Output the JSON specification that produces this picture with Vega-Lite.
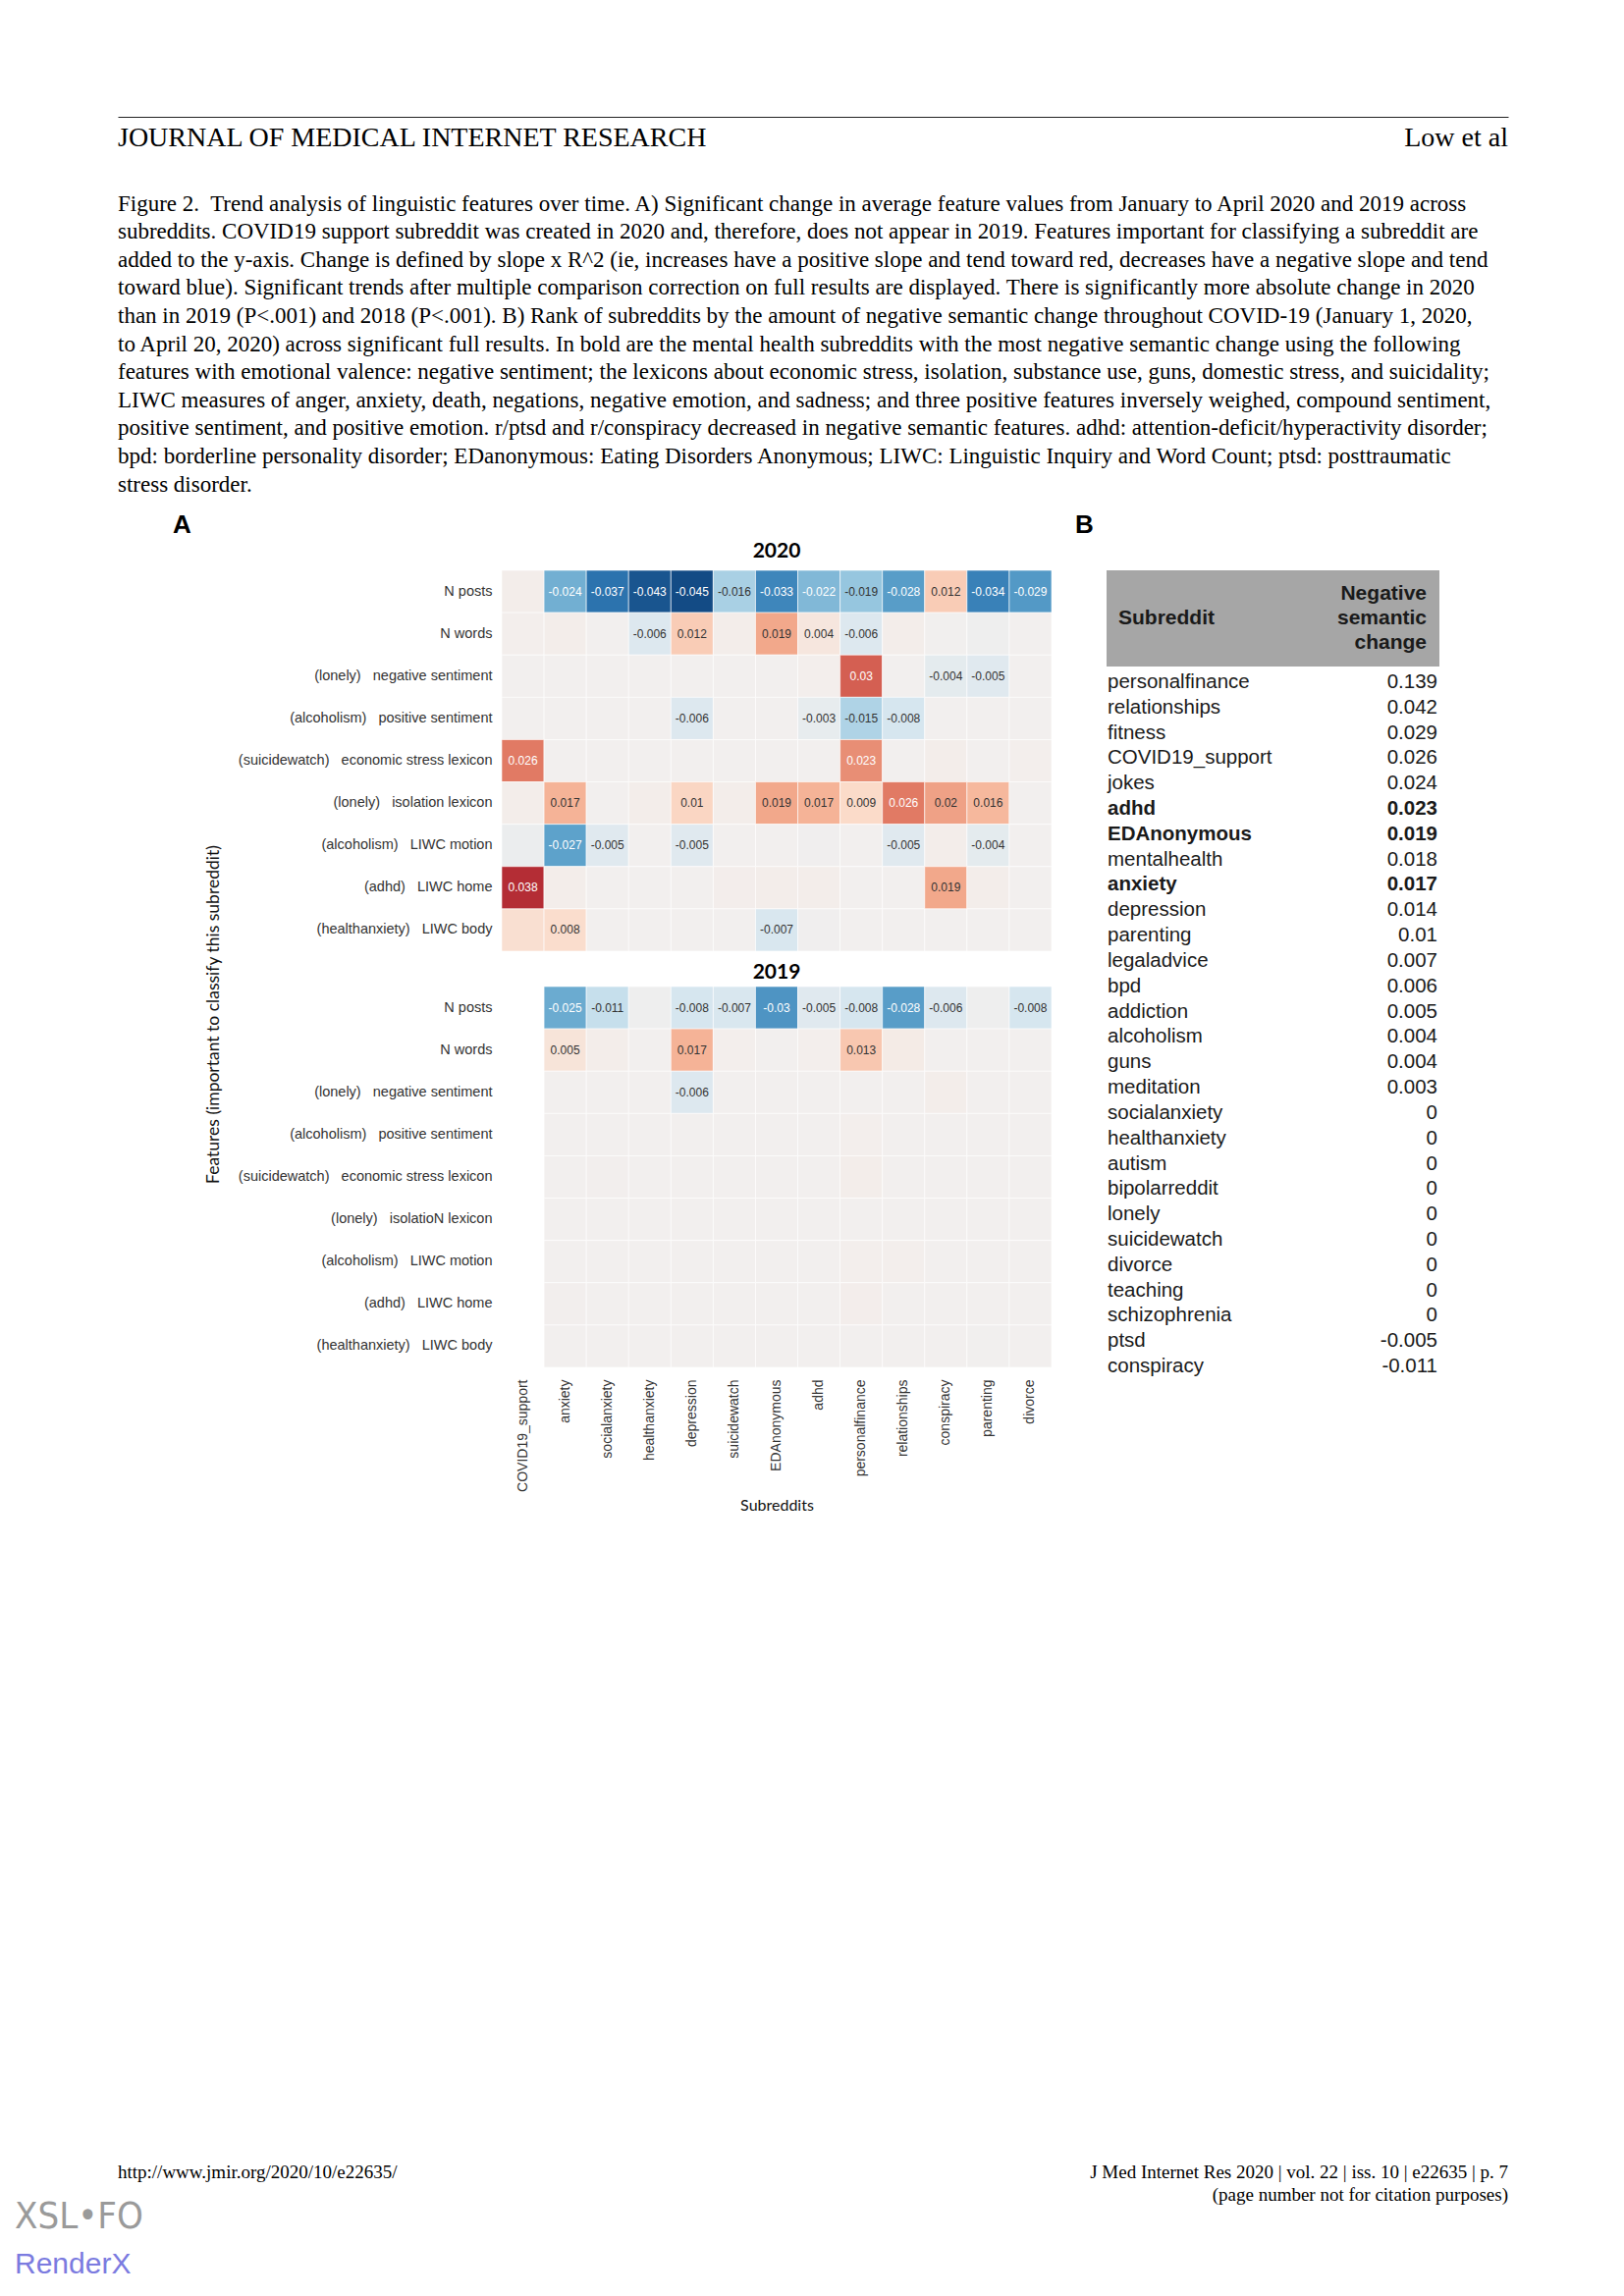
{
"$schema": "https://vega.github.io/schema/vega-lite/v6.json",
"background": "white",
"padding": {"left": 15, "top": 119, "right": 20, "bottom": 0},
"config": {"view": {"stroke": null}, "axis": {"ticks": false, "domain": false, "grid": false}, "font": "Liberation Sans"},
"title": {"text": "XSL•FO", "subtitle": "RenderX", "orient": "bottom", "anchor": "start", "frame": "group", "dx": -496, "font": "Liberation Sans Narrow, DejaVu Sans Condensed, sans-serif", "fontSize": 38, "fontWeight": "normal", "color": "#9a9a9a", "subtitleFont": "Liberation Sans", "subtitleFontSize": 30, "subtitleColor": "#7b7be0", "subtitlePadding": 14, "offset": -6},
"datasets": {
"heatmap": [
{"year":2020,"feature":"N posts","subreddit":"COVID19_support","change":0.001,"significant":false},
{"year":2020,"feature":"N posts","subreddit":"anxiety","change":-0.024,"significant":true},
{"year":2020,"feature":"N posts","subreddit":"socialanxiety","change":-0.037,"significant":true},
{"year":2020,"feature":"N posts","subreddit":"healthanxiety","change":-0.043,"significant":true},
{"year":2020,"feature":"N posts","subreddit":"depression","change":-0.045,"significant":true},
{"year":2020,"feature":"N posts","subreddit":"suicidewatch","change":-0.016,"significant":true},
{"year":2020,"feature":"N posts","subreddit":"EDAnonymous","change":-0.033,"significant":true},
{"year":2020,"feature":"N posts","subreddit":"adhd","change":-0.022,"significant":true},
{"year":2020,"feature":"N posts","subreddit":"personalfinance","change":-0.019,"significant":true},
{"year":2020,"feature":"N posts","subreddit":"relationships","change":-0.028,"significant":true},
{"year":2020,"feature":"N posts","subreddit":"conspiracy","change":0.012,"significant":true},
{"year":2020,"feature":"N posts","subreddit":"parenting","change":-0.034,"significant":true},
{"year":2020,"feature":"N posts","subreddit":"divorce","change":-0.029,"significant":true},
{"year":2020,"feature":"N words","subreddit":"COVID19_support","change":0.0005,"significant":false},
{"year":2020,"feature":"N words","subreddit":"anxiety","change":0.001,"significant":false},
{"year":2020,"feature":"N words","subreddit":"socialanxiety","change":0,"significant":false},
{"year":2020,"feature":"N words","subreddit":"healthanxiety","change":-0.006,"significant":true},
{"year":2020,"feature":"N words","subreddit":"depression","change":0.012,"significant":true},
{"year":2020,"feature":"N words","subreddit":"suicidewatch","change":0.001,"significant":false},
{"year":2020,"feature":"N words","subreddit":"EDAnonymous","change":0.019,"significant":true},
{"year":2020,"feature":"N words","subreddit":"adhd","change":0.004,"significant":true},
{"year":2020,"feature":"N words","subreddit":"personalfinance","change":-0.006,"significant":true},
{"year":2020,"feature":"N words","subreddit":"relationships","change":0.001,"significant":false},
{"year":2020,"feature":"N words","subreddit":"conspiracy","change":-0.0003,"significant":false},
{"year":2020,"feature":"N words","subreddit":"parenting","change":-0.001,"significant":false},
{"year":2020,"feature":"N words","subreddit":"divorce","change":0,"significant":false},
{"year":2020,"feature":"(lonely)\u00a0\u00a0\u00a0negative sentiment","subreddit":"COVID19_support","change":0,"significant":false},
{"year":2020,"feature":"(lonely)\u00a0\u00a0\u00a0negative sentiment","subreddit":"anxiety","change":0,"significant":false},
{"year":2020,"feature":"(lonely)\u00a0\u00a0\u00a0negative sentiment","subreddit":"socialanxiety","change":0,"significant":false},
{"year":2020,"feature":"(lonely)\u00a0\u00a0\u00a0negative sentiment","subreddit":"healthanxiety","change":0,"significant":false},
{"year":2020,"feature":"(lonely)\u00a0\u00a0\u00a0negative sentiment","subreddit":"depression","change":0,"significant":false},
{"year":2020,"feature":"(lonely)\u00a0\u00a0\u00a0negative sentiment","subreddit":"suicidewatch","change":0,"significant":false},
{"year":2020,"feature":"(lonely)\u00a0\u00a0\u00a0negative sentiment","subreddit":"EDAnonymous","change":0,"significant":false},
{"year":2020,"feature":"(lonely)\u00a0\u00a0\u00a0negative sentiment","subreddit":"adhd","change":0.0005,"significant":false},
{"year":2020,"feature":"(lonely)\u00a0\u00a0\u00a0negative sentiment","subreddit":"personalfinance","change":0.03,"significant":true},
{"year":2020,"feature":"(lonely)\u00a0\u00a0\u00a0negative sentiment","subreddit":"relationships","change":0,"significant":false},
{"year":2020,"feature":"(lonely)\u00a0\u00a0\u00a0negative sentiment","subreddit":"conspiracy","change":-0.004,"significant":true},
{"year":2020,"feature":"(lonely)\u00a0\u00a0\u00a0negative sentiment","subreddit":"parenting","change":-0.005,"significant":true},
{"year":2020,"feature":"(lonely)\u00a0\u00a0\u00a0negative sentiment","subreddit":"divorce","change":0,"significant":false},
{"year":2020,"feature":"(alcoholism)\u00a0\u00a0\u00a0positive sentiment","subreddit":"COVID19_support","change":0,"significant":false},
{"year":2020,"feature":"(alcoholism)\u00a0\u00a0\u00a0positive sentiment","subreddit":"anxiety","change":0,"significant":false},
{"year":2020,"feature":"(alcoholism)\u00a0\u00a0\u00a0positive sentiment","subreddit":"socialanxiety","change":0,"significant":false},
{"year":2020,"feature":"(alcoholism)\u00a0\u00a0\u00a0positive sentiment","subreddit":"healthanxiety","change":0,"significant":false},
{"year":2020,"feature":"(alcoholism)\u00a0\u00a0\u00a0positive sentiment","subreddit":"depression","change":-0.006,"significant":true},
{"year":2020,"feature":"(alcoholism)\u00a0\u00a0\u00a0positive sentiment","subreddit":"suicidewatch","change":0,"significant":false},
{"year":2020,"feature":"(alcoholism)\u00a0\u00a0\u00a0positive sentiment","subreddit":"EDAnonymous","change":0,"significant":false},
{"year":2020,"feature":"(alcoholism)\u00a0\u00a0\u00a0positive sentiment","subreddit":"adhd","change":-0.003,"significant":true},
{"year":2020,"feature":"(alcoholism)\u00a0\u00a0\u00a0positive sentiment","subreddit":"personalfinance","change":-0.015,"significant":true},
{"year":2020,"feature":"(alcoholism)\u00a0\u00a0\u00a0positive sentiment","subreddit":"relationships","change":-0.008,"significant":true},
{"year":2020,"feature":"(alcoholism)\u00a0\u00a0\u00a0positive sentiment","subreddit":"conspiracy","change":0,"significant":false},
{"year":2020,"feature":"(alcoholism)\u00a0\u00a0\u00a0positive sentiment","subreddit":"parenting","change":0,"significant":false},
{"year":2020,"feature":"(alcoholism)\u00a0\u00a0\u00a0positive sentiment","subreddit":"divorce","change":0,"significant":false},
{"year":2020,"feature":"(suicidewatch)\u00a0\u00a0\u00a0economic stress lexicon","subreddit":"COVID19_support","change":0.026,"significant":true},
{"year":2020,"feature":"(suicidewatch)\u00a0\u00a0\u00a0economic stress lexicon","subreddit":"anxiety","change":0,"significant":false},
{"year":2020,"feature":"(suicidewatch)\u00a0\u00a0\u00a0economic stress lexicon","subreddit":"socialanxiety","change":0,"significant":false},
{"year":2020,"feature":"(suicidewatch)\u00a0\u00a0\u00a0economic stress lexicon","subreddit":"healthanxiety","change":0,"significant":false},
{"year":2020,"feature":"(suicidewatch)\u00a0\u00a0\u00a0economic stress lexicon","subreddit":"depression","change":0,"significant":false},
{"year":2020,"feature":"(suicidewatch)\u00a0\u00a0\u00a0economic stress lexicon","subreddit":"suicidewatch","change":0,"significant":false},
{"year":2020,"feature":"(suicidewatch)\u00a0\u00a0\u00a0economic stress lexicon","subreddit":"EDAnonymous","change":0,"significant":false},
{"year":2020,"feature":"(suicidewatch)\u00a0\u00a0\u00a0economic stress lexicon","subreddit":"adhd","change":0,"significant":false},
{"year":2020,"feature":"(suicidewatch)\u00a0\u00a0\u00a0economic stress lexicon","subreddit":"personalfinance","change":0.023,"significant":true},
{"year":2020,"feature":"(suicidewatch)\u00a0\u00a0\u00a0economic stress lexicon","subreddit":"relationships","change":0,"significant":false},
{"year":2020,"feature":"(suicidewatch)\u00a0\u00a0\u00a0economic stress lexicon","subreddit":"conspiracy","change":0.001,"significant":false},
{"year":2020,"feature":"(suicidewatch)\u00a0\u00a0\u00a0economic stress lexicon","subreddit":"parenting","change":0,"significant":false},
{"year":2020,"feature":"(suicidewatch)\u00a0\u00a0\u00a0economic stress lexicon","subreddit":"divorce","change":0.0005,"significant":false},
{"year":2020,"feature":"(lonely)\u00a0\u00a0\u00a0isolation lexicon","subreddit":"COVID19_support","change":0.001,"significant":false},
{"year":2020,"feature":"(lonely)\u00a0\u00a0\u00a0isolation lexicon","subreddit":"anxiety","change":0.017,"significant":true},
{"year":2020,"feature":"(lonely)\u00a0\u00a0\u00a0isolation lexicon","subreddit":"socialanxiety","change":0,"significant":false},
{"year":2020,"feature":"(lonely)\u00a0\u00a0\u00a0isolation lexicon","subreddit":"healthanxiety","change":0.001,"significant":false},
{"year":2020,"feature":"(lonely)\u00a0\u00a0\u00a0isolation lexicon","subreddit":"depression","change":0.01,"significant":true},
{"year":2020,"feature":"(lonely)\u00a0\u00a0\u00a0isolation lexicon","subreddit":"suicidewatch","change":0.001,"significant":false},
{"year":2020,"feature":"(lonely)\u00a0\u00a0\u00a0isolation lexicon","subreddit":"EDAnonymous","change":0.019,"significant":true},
{"year":2020,"feature":"(lonely)\u00a0\u00a0\u00a0isolation lexicon","subreddit":"adhd","change":0.017,"significant":true},
{"year":2020,"feature":"(lonely)\u00a0\u00a0\u00a0isolation lexicon","subreddit":"personalfinance","change":0.009,"significant":true},
{"year":2020,"feature":"(lonely)\u00a0\u00a0\u00a0isolation lexicon","subreddit":"relationships","change":0.026,"significant":true},
{"year":2020,"feature":"(lonely)\u00a0\u00a0\u00a0isolation lexicon","subreddit":"conspiracy","change":0.02,"significant":true},
{"year":2020,"feature":"(lonely)\u00a0\u00a0\u00a0isolation lexicon","subreddit":"parenting","change":0.016,"significant":true},
{"year":2020,"feature":"(lonely)\u00a0\u00a0\u00a0isolation lexicon","subreddit":"divorce","change":0,"significant":false},
{"year":2020,"feature":"(alcoholism)\u00a0\u00a0\u00a0LIWC motion","subreddit":"COVID19_support","change":-0.002,"significant":false},
{"year":2020,"feature":"(alcoholism)\u00a0\u00a0\u00a0LIWC motion","subreddit":"anxiety","change":-0.027,"significant":true},
{"year":2020,"feature":"(alcoholism)\u00a0\u00a0\u00a0LIWC motion","subreddit":"socialanxiety","change":-0.005,"significant":true},
{"year":2020,"feature":"(alcoholism)\u00a0\u00a0\u00a0LIWC motion","subreddit":"healthanxiety","change":0,"significant":false},
{"year":2020,"feature":"(alcoholism)\u00a0\u00a0\u00a0LIWC motion","subreddit":"depression","change":-0.005,"significant":true},
{"year":2020,"feature":"(alcoholism)\u00a0\u00a0\u00a0LIWC motion","subreddit":"suicidewatch","change":0,"significant":false},
{"year":2020,"feature":"(alcoholism)\u00a0\u00a0\u00a0LIWC motion","subreddit":"EDAnonymous","change":0,"significant":false},
{"year":2020,"feature":"(alcoholism)\u00a0\u00a0\u00a0LIWC motion","subreddit":"adhd","change":-0.0005,"significant":false},
{"year":2020,"feature":"(alcoholism)\u00a0\u00a0\u00a0LIWC motion","subreddit":"personalfinance","change":0,"significant":false},
{"year":2020,"feature":"(alcoholism)\u00a0\u00a0\u00a0LIWC motion","subreddit":"relationships","change":-0.005,"significant":true},
{"year":2020,"feature":"(alcoholism)\u00a0\u00a0\u00a0LIWC motion","subreddit":"conspiracy","change":0.001,"significant":false},
{"year":2020,"feature":"(alcoholism)\u00a0\u00a0\u00a0LIWC motion","subreddit":"parenting","change":-0.004,"significant":true},
{"year":2020,"feature":"(alcoholism)\u00a0\u00a0\u00a0LIWC motion","subreddit":"divorce","change":0,"significant":false},
{"year":2020,"feature":"(adhd)\u00a0\u00a0\u00a0LIWC home","subreddit":"COVID19_support","change":0.038,"significant":true},
{"year":2020,"feature":"(adhd)\u00a0\u00a0\u00a0LIWC home","subreddit":"anxiety","change":0.001,"significant":false},
{"year":2020,"feature":"(adhd)\u00a0\u00a0\u00a0LIWC home","subreddit":"socialanxiety","change":0,"significant":false},
{"year":2020,"feature":"(adhd)\u00a0\u00a0\u00a0LIWC home","subreddit":"healthanxiety","change":0,"significant":false},
{"year":2020,"feature":"(adhd)\u00a0\u00a0\u00a0LIWC home","subreddit":"depression","change":0,"significant":false},
{"year":2020,"feature":"(adhd)\u00a0\u00a0\u00a0LIWC home","subreddit":"suicidewatch","change":0.0007,"significant":false},
{"year":2020,"feature":"(adhd)\u00a0\u00a0\u00a0LIWC home","subreddit":"EDAnonymous","change":0.001,"significant":false},
{"year":2020,"feature":"(adhd)\u00a0\u00a0\u00a0LIWC home","subreddit":"adhd","change":0.001,"significant":false},
{"year":2020,"feature":"(adhd)\u00a0\u00a0\u00a0LIWC home","subreddit":"personalfinance","change":0,"significant":false},
{"year":2020,"feature":"(adhd)\u00a0\u00a0\u00a0LIWC home","subreddit":"relationships","change":0,"significant":false},
{"year":2020,"feature":"(adhd)\u00a0\u00a0\u00a0LIWC home","subreddit":"conspiracy","change":0.019,"significant":true},
{"year":2020,"feature":"(adhd)\u00a0\u00a0\u00a0LIWC home","subreddit":"parenting","change":0.001,"significant":false},
{"year":2020,"feature":"(adhd)\u00a0\u00a0\u00a0LIWC home","subreddit":"divorce","change":0,"significant":false},
{"year":2020,"feature":"(healthanxiety)\u00a0\u00a0\u00a0LIWC body","subreddit":"COVID19_support","change":0.007,"significant":false},
{"year":2020,"feature":"(healthanxiety)\u00a0\u00a0\u00a0LIWC body","subreddit":"anxiety","change":0.008,"significant":true},
{"year":2020,"feature":"(healthanxiety)\u00a0\u00a0\u00a0LIWC body","subreddit":"socialanxiety","change":0,"significant":false},
{"year":2020,"feature":"(healthanxiety)\u00a0\u00a0\u00a0LIWC body","subreddit":"healthanxiety","change":0,"significant":false},
{"year":2020,"feature":"(healthanxiety)\u00a0\u00a0\u00a0LIWC body","subreddit":"depression","change":0,"significant":false},
{"year":2020,"feature":"(healthanxiety)\u00a0\u00a0\u00a0LIWC body","subreddit":"suicidewatch","change":0,"significant":false},
{"year":2020,"feature":"(healthanxiety)\u00a0\u00a0\u00a0LIWC body","subreddit":"EDAnonymous","change":-0.007,"significant":true},
{"year":2020,"feature":"(healthanxiety)\u00a0\u00a0\u00a0LIWC body","subreddit":"adhd","change":-0.0005,"significant":false},
{"year":2020,"feature":"(healthanxiety)\u00a0\u00a0\u00a0LIWC body","subreddit":"personalfinance","change":0,"significant":false},
{"year":2020,"feature":"(healthanxiety)\u00a0\u00a0\u00a0LIWC body","subreddit":"relationships","change":0,"significant":false},
{"year":2020,"feature":"(healthanxiety)\u00a0\u00a0\u00a0LIWC body","subreddit":"conspiracy","change":0,"significant":false},
{"year":2020,"feature":"(healthanxiety)\u00a0\u00a0\u00a0LIWC body","subreddit":"parenting","change":0,"significant":false},
{"year":2020,"feature":"(healthanxiety)\u00a0\u00a0\u00a0LIWC body","subreddit":"divorce","change":0,"significant":false},
{"year":2019,"feature":"N posts","subreddit":"anxiety","change":-0.025,"significant":true},
{"year":2019,"feature":"N posts","subreddit":"socialanxiety","change":-0.011,"significant":true},
{"year":2019,"feature":"N posts","subreddit":"healthanxiety","change":-0.001,"significant":false},
{"year":2019,"feature":"N posts","subreddit":"depression","change":-0.008,"significant":true},
{"year":2019,"feature":"N posts","subreddit":"suicidewatch","change":-0.007,"significant":true},
{"year":2019,"feature":"N posts","subreddit":"EDAnonymous","change":-0.03,"significant":true},
{"year":2019,"feature":"N posts","subreddit":"adhd","change":-0.005,"significant":true},
{"year":2019,"feature":"N posts","subreddit":"personalfinance","change":-0.008,"significant":true},
{"year":2019,"feature":"N posts","subreddit":"relationships","change":-0.028,"significant":true},
{"year":2019,"feature":"N posts","subreddit":"conspiracy","change":-0.006,"significant":true},
{"year":2019,"feature":"N posts","subreddit":"parenting","change":-0.001,"significant":false},
{"year":2019,"feature":"N posts","subreddit":"divorce","change":-0.008,"significant":true},
{"year":2019,"feature":"N words","subreddit":"anxiety","change":0.005,"significant":true},
{"year":2019,"feature":"N words","subreddit":"socialanxiety","change":0.001,"significant":false},
{"year":2019,"feature":"N words","subreddit":"healthanxiety","change":0,"significant":false},
{"year":2019,"feature":"N words","subreddit":"depression","change":0.017,"significant":true},
{"year":2019,"feature":"N words","subreddit":"suicidewatch","change":0.0005,"significant":false},
{"year":2019,"feature":"N words","subreddit":"EDAnonymous","change":0,"significant":false},
{"year":2019,"feature":"N words","subreddit":"adhd","change":0.0005,"significant":false},
{"year":2019,"feature":"N words","subreddit":"personalfinance","change":0.013,"significant":true},
{"year":2019,"feature":"N words","subreddit":"relationships","change":0.002,"significant":false},
{"year":2019,"feature":"N words","subreddit":"conspiracy","change":0,"significant":false},
{"year":2019,"feature":"N words","subreddit":"parenting","change":0,"significant":false},
{"year":2019,"feature":"N words","subreddit":"divorce","change":0,"significant":false},
{"year":2019,"feature":"(lonely)\u00a0\u00a0\u00a0negative sentiment","subreddit":"anxiety","change":0,"significant":false},
{"year":2019,"feature":"(lonely)\u00a0\u00a0\u00a0negative sentiment","subreddit":"socialanxiety","change":0,"significant":false},
{"year":2019,"feature":"(lonely)\u00a0\u00a0\u00a0negative sentiment","subreddit":"healthanxiety","change":0,"significant":false},
{"year":2019,"feature":"(lonely)\u00a0\u00a0\u00a0negative sentiment","subreddit":"depression","change":-0.006,"significant":true},
{"year":2019,"feature":"(lonely)\u00a0\u00a0\u00a0negative sentiment","subreddit":"suicidewatch","change":0,"significant":false},
{"year":2019,"feature":"(lonely)\u00a0\u00a0\u00a0negative sentiment","subreddit":"EDAnonymous","change":0,"significant":false},
{"year":2019,"feature":"(lonely)\u00a0\u00a0\u00a0negative sentiment","subreddit":"adhd","change":0,"significant":false},
{"year":2019,"feature":"(lonely)\u00a0\u00a0\u00a0negative sentiment","subreddit":"personalfinance","change":0,"significant":false},
{"year":2019,"feature":"(lonely)\u00a0\u00a0\u00a0negative sentiment","subreddit":"relationships","change":0,"significant":false},
{"year":2019,"feature":"(lonely)\u00a0\u00a0\u00a0negative sentiment","subreddit":"conspiracy","change":0.001,"significant":false},
{"year":2019,"feature":"(lonely)\u00a0\u00a0\u00a0negative sentiment","subreddit":"parenting","change":0,"significant":false},
{"year":2019,"feature":"(lonely)\u00a0\u00a0\u00a0negative sentiment","subreddit":"divorce","change":0,"significant":false},
{"year":2019,"feature":"(alcoholism)\u00a0\u00a0\u00a0positive sentiment","subreddit":"anxiety","change":0,"significant":false},
{"year":2019,"feature":"(alcoholism)\u00a0\u00a0\u00a0positive sentiment","subreddit":"socialanxiety","change":0,"significant":false},
{"year":2019,"feature":"(alcoholism)\u00a0\u00a0\u00a0positive sentiment","subreddit":"healthanxiety","change":0,"significant":false},
{"year":2019,"feature":"(alcoholism)\u00a0\u00a0\u00a0positive sentiment","subreddit":"depression","change":0,"significant":false},
{"year":2019,"feature":"(alcoholism)\u00a0\u00a0\u00a0positive sentiment","subreddit":"suicidewatch","change":0,"significant":false},
{"year":2019,"feature":"(alcoholism)\u00a0\u00a0\u00a0positive sentiment","subreddit":"EDAnonymous","change":0,"significant":false},
{"year":2019,"feature":"(alcoholism)\u00a0\u00a0\u00a0positive sentiment","subreddit":"adhd","change":0,"significant":false},
{"year":2019,"feature":"(alcoholism)\u00a0\u00a0\u00a0positive sentiment","subreddit":"personalfinance","change":0.0005,"significant":false},
{"year":2019,"feature":"(alcoholism)\u00a0\u00a0\u00a0positive sentiment","subreddit":"relationships","change":0,"significant":false},
{"year":2019,"feature":"(alcoholism)\u00a0\u00a0\u00a0positive sentiment","subreddit":"conspiracy","change":0,"significant":false},
{"year":2019,"feature":"(alcoholism)\u00a0\u00a0\u00a0positive sentiment","subreddit":"parenting","change":0,"significant":false},
{"year":2019,"feature":"(alcoholism)\u00a0\u00a0\u00a0positive sentiment","subreddit":"divorce","change":0,"significant":false},
{"year":2019,"feature":"(suicidewatch)\u00a0\u00a0\u00a0economic stress lexicon","subreddit":"anxiety","change":0,"significant":false},
{"year":2019,"feature":"(suicidewatch)\u00a0\u00a0\u00a0economic stress lexicon","subreddit":"socialanxiety","change":0.0003,"significant":false},
{"year":2019,"feature":"(suicidewatch)\u00a0\u00a0\u00a0economic stress lexicon","subreddit":"healthanxiety","change":0,"significant":false},
{"year":2019,"feature":"(suicidewatch)\u00a0\u00a0\u00a0economic stress lexicon","subreddit":"depression","change":0,"significant":false},
{"year":2019,"feature":"(suicidewatch)\u00a0\u00a0\u00a0economic stress lexicon","subreddit":"suicidewatch","change":0,"significant":false},
{"year":2019,"feature":"(suicidewatch)\u00a0\u00a0\u00a0economic stress lexicon","subreddit":"EDAnonymous","change":0,"significant":false},
{"year":2019,"feature":"(suicidewatch)\u00a0\u00a0\u00a0economic stress lexicon","subreddit":"adhd","change":0,"significant":false},
{"year":2019,"feature":"(suicidewatch)\u00a0\u00a0\u00a0economic stress lexicon","subreddit":"personalfinance","change":0.001,"significant":false},
{"year":2019,"feature":"(suicidewatch)\u00a0\u00a0\u00a0economic stress lexicon","subreddit":"relationships","change":0,"significant":false},
{"year":2019,"feature":"(suicidewatch)\u00a0\u00a0\u00a0economic stress lexicon","subreddit":"conspiracy","change":0,"significant":false},
{"year":2019,"feature":"(suicidewatch)\u00a0\u00a0\u00a0economic stress lexicon","subreddit":"parenting","change":0,"significant":false},
{"year":2019,"feature":"(suicidewatch)\u00a0\u00a0\u00a0economic stress lexicon","subreddit":"divorce","change":0,"significant":false},
{"year":2019,"feature":"(lonely)\u00a0\u00a0\u00a0isolatioN lexicon","subreddit":"anxiety","change":0,"significant":false},
{"year":2019,"feature":"(lonely)\u00a0\u00a0\u00a0isolatioN lexicon","subreddit":"socialanxiety","change":0,"significant":false},
{"year":2019,"feature":"(lonely)\u00a0\u00a0\u00a0isolatioN lexicon","subreddit":"healthanxiety","change":0,"significant":false},
{"year":2019,"feature":"(lonely)\u00a0\u00a0\u00a0isolatioN lexicon","subreddit":"depression","change":0,"significant":false},
{"year":2019,"feature":"(lonely)\u00a0\u00a0\u00a0isolatioN lexicon","subreddit":"suicidewatch","change":0,"significant":false},
{"year":2019,"feature":"(lonely)\u00a0\u00a0\u00a0isolatioN lexicon","subreddit":"EDAnonymous","change":0,"significant":false},
{"year":2019,"feature":"(lonely)\u00a0\u00a0\u00a0isolatioN lexicon","subreddit":"adhd","change":0,"significant":false},
{"year":2019,"feature":"(lonely)\u00a0\u00a0\u00a0isolatioN lexicon","subreddit":"personalfinance","change":0,"significant":false},
{"year":2019,"feature":"(lonely)\u00a0\u00a0\u00a0isolatioN lexicon","subreddit":"relationships","change":0,"significant":false},
{"year":2019,"feature":"(lonely)\u00a0\u00a0\u00a0isolatioN lexicon","subreddit":"conspiracy","change":0,"significant":false},
{"year":2019,"feature":"(lonely)\u00a0\u00a0\u00a0isolatioN lexicon","subreddit":"parenting","change":0,"significant":false},
{"year":2019,"feature":"(lonely)\u00a0\u00a0\u00a0isolatioN lexicon","subreddit":"divorce","change":0,"significant":false},
{"year":2019,"feature":"(alcoholism)\u00a0\u00a0\u00a0LIWC motion","subreddit":"anxiety","change":0,"significant":false},
{"year":2019,"feature":"(alcoholism)\u00a0\u00a0\u00a0LIWC motion","subreddit":"socialanxiety","change":0,"significant":false},
{"year":2019,"feature":"(alcoholism)\u00a0\u00a0\u00a0LIWC motion","subreddit":"healthanxiety","change":0,"significant":false},
{"year":2019,"feature":"(alcoholism)\u00a0\u00a0\u00a0LIWC motion","subreddit":"depression","change":0,"significant":false},
{"year":2019,"feature":"(alcoholism)\u00a0\u00a0\u00a0LIWC motion","subreddit":"suicidewatch","change":0,"significant":false},
{"year":2019,"feature":"(alcoholism)\u00a0\u00a0\u00a0LIWC motion","subreddit":"EDAnonymous","change":0,"significant":false},
{"year":2019,"feature":"(alcoholism)\u00a0\u00a0\u00a0LIWC motion","subreddit":"adhd","change":0,"significant":false},
{"year":2019,"feature":"(alcoholism)\u00a0\u00a0\u00a0LIWC motion","subreddit":"personalfinance","change":0.0005,"significant":false},
{"year":2019,"feature":"(alcoholism)\u00a0\u00a0\u00a0LIWC motion","subreddit":"relationships","change":0.0005,"significant":false},
{"year":2019,"feature":"(alcoholism)\u00a0\u00a0\u00a0LIWC motion","subreddit":"conspiracy","change":0,"significant":false},
{"year":2019,"feature":"(alcoholism)\u00a0\u00a0\u00a0LIWC motion","subreddit":"parenting","change":0,"significant":false},
{"year":2019,"feature":"(alcoholism)\u00a0\u00a0\u00a0LIWC motion","subreddit":"divorce","change":0,"significant":false},
{"year":2019,"feature":"(adhd)\u00a0\u00a0\u00a0LIWC home","subreddit":"anxiety","change":0.0003,"significant":false},
{"year":2019,"feature":"(adhd)\u00a0\u00a0\u00a0LIWC home","subreddit":"socialanxiety","change":0,"significant":false},
{"year":2019,"feature":"(adhd)\u00a0\u00a0\u00a0LIWC home","subreddit":"healthanxiety","change":0,"significant":false},
{"year":2019,"feature":"(adhd)\u00a0\u00a0\u00a0LIWC home","subreddit":"depression","change":0,"significant":false},
{"year":2019,"feature":"(adhd)\u00a0\u00a0\u00a0LIWC home","subreddit":"suicidewatch","change":0,"significant":false},
{"year":2019,"feature":"(adhd)\u00a0\u00a0\u00a0LIWC home","subreddit":"EDAnonymous","change":0,"significant":false},
{"year":2019,"feature":"(adhd)\u00a0\u00a0\u00a0LIWC home","subreddit":"adhd","change":0,"significant":false},
{"year":2019,"feature":"(adhd)\u00a0\u00a0\u00a0LIWC home","subreddit":"personalfinance","change":0.0007,"significant":false},
{"year":2019,"feature":"(adhd)\u00a0\u00a0\u00a0LIWC home","subreddit":"relationships","change":0,"significant":false},
{"year":2019,"feature":"(adhd)\u00a0\u00a0\u00a0LIWC home","subreddit":"conspiracy","change":0,"significant":false},
{"year":2019,"feature":"(adhd)\u00a0\u00a0\u00a0LIWC home","subreddit":"parenting","change":0,"significant":false},
{"year":2019,"feature":"(adhd)\u00a0\u00a0\u00a0LIWC home","subreddit":"divorce","change":0,"significant":false},
{"year":2019,"feature":"(healthanxiety)\u00a0\u00a0\u00a0LIWC body","subreddit":"anxiety","change":0,"significant":false},
{"year":2019,"feature":"(healthanxiety)\u00a0\u00a0\u00a0LIWC body","subreddit":"socialanxiety","change":0,"significant":false},
{"year":2019,"feature":"(healthanxiety)\u00a0\u00a0\u00a0LIWC body","subreddit":"healthanxiety","change":0,"significant":false},
{"year":2019,"feature":"(healthanxiety)\u00a0\u00a0\u00a0LIWC body","subreddit":"depression","change":0,"significant":false},
{"year":2019,"feature":"(healthanxiety)\u00a0\u00a0\u00a0LIWC body","subreddit":"suicidewatch","change":0,"significant":false},
{"year":2019,"feature":"(healthanxiety)\u00a0\u00a0\u00a0LIWC body","subreddit":"EDAnonymous","change":0,"significant":false},
{"year":2019,"feature":"(healthanxiety)\u00a0\u00a0\u00a0LIWC body","subreddit":"adhd","change":0,"significant":false},
{"year":2019,"feature":"(healthanxiety)\u00a0\u00a0\u00a0LIWC body","subreddit":"personalfinance","change":0,"significant":false},
{"year":2019,"feature":"(healthanxiety)\u00a0\u00a0\u00a0LIWC body","subreddit":"relationships","change":0,"significant":false},
{"year":2019,"feature":"(healthanxiety)\u00a0\u00a0\u00a0LIWC body","subreddit":"conspiracy","change":0,"significant":false},
{"year":2019,"feature":"(healthanxiety)\u00a0\u00a0\u00a0LIWC body","subreddit":"parenting","change":-0.0003,"significant":false},
{"year":2019,"feature":"(healthanxiety)\u00a0\u00a0\u00a0LIWC body","subreddit":"divorce","change":0,"significant":false}
],
"ranking": [
{"rank":1,"subreddit":"personalfinance","change":0.139,"highlighted":false},
{"rank":2,"subreddit":"relationships","change":0.042,"highlighted":false},
{"rank":3,"subreddit":"fitness","change":0.029,"highlighted":false},
{"rank":4,"subreddit":"COVID19_support","change":0.026,"highlighted":false},
{"rank":5,"subreddit":"jokes","change":0.024,"highlighted":false},
{"rank":6,"subreddit":"adhd","change":0.023,"highlighted":true},
{"rank":7,"subreddit":"EDAnonymous","change":0.019,"highlighted":true},
{"rank":8,"subreddit":"mentalhealth","change":0.018,"highlighted":false},
{"rank":9,"subreddit":"anxiety","change":0.017,"highlighted":true},
{"rank":10,"subreddit":"depression","change":0.014,"highlighted":false},
{"rank":11,"subreddit":"parenting","change":0.01,"highlighted":false},
{"rank":12,"subreddit":"legaladvice","change":0.007,"highlighted":false},
{"rank":13,"subreddit":"bpd","change":0.006,"highlighted":false},
{"rank":14,"subreddit":"addiction","change":0.005,"highlighted":false},
{"rank":15,"subreddit":"alcoholism","change":0.004,"highlighted":false},
{"rank":16,"subreddit":"guns","change":0.004,"highlighted":false},
{"rank":17,"subreddit":"meditation","change":0.003,"highlighted":false},
{"rank":18,"subreddit":"socialanxiety","change":0,"highlighted":false},
{"rank":19,"subreddit":"healthanxiety","change":0,"highlighted":false},
{"rank":20,"subreddit":"autism","change":0,"highlighted":false},
{"rank":21,"subreddit":"bipolarreddit","change":0,"highlighted":false},
{"rank":22,"subreddit":"lonely","change":0,"highlighted":false},
{"rank":23,"subreddit":"suicidewatch","change":0,"highlighted":false},
{"rank":24,"subreddit":"divorce","change":0,"highlighted":false},
{"rank":25,"subreddit":"teaching","change":0,"highlighted":false},
{"rank":26,"subreddit":"schizophrenia","change":0,"highlighted":false},
{"rank":27,"subreddit":"ptsd","change":-0.005,"highlighted":false},
{"rank":28,"subreddit":"conspiracy","change":-0.011,"highlighted":false}
]
},
"spacing": 652,
"vconcat": [
{"spacing": 33, "vconcat": [
 {
  "width": 1025, "height": 44,
  "data": {"values": [{"part": "journal", "label": "JOURNAL OF MEDICAL INTERNET RESEARCH"}, {"part": "authors", "label": "Low et al"}]},
  "layer": [
   {"transform": [{"filter": "datum.part === 'journal'"}],
    "mark": {"type": "text", "align": "left", "baseline": "middle", "font": "Liberation Serif", "fontSize": 28, "color": "black"},
    "encoding": {"text": {"field": "label", "type": "nominal"}, "x": {"datum": 0, "type": "quantitative", "scale": {"domain": [0, 1], "range": [-391, 1025]}, "axis": {"orient": "top", "domain": true, "domainColor": "#222222", "domainWidth": 1.2, "labels": false, "ticks": false, "grid": false, "title": null}}}},
   {"transform": [{"filter": "datum.part === 'authors'"}],
    "mark": {"type": "text", "align": "right", "baseline": "middle", "font": "Liberation Serif", "fontSize": 28, "color": "black"},
    "encoding": {"text": {"field": "label", "type": "nominal"}, "x": {"datum": 1, "type": "quantitative", "axis": {"orient": "top", "domain": true, "domainColor": "#222222", "domainWidth": 1.2, "labels": false, "ticks": false, "grid": false, "title": null}}}}
  ]
 },
 {
  "title": {"text": [
   "Figure 2.\u00a0 Trend analysis of linguistic features over time. A) Significant change in average feature values from January to April 2020 and 2019 across",
   "subreddits. COVID19 support subreddit was created in 2020 and, therefore, does not appear in 2019. Features important for classifying a subreddit are",
   "added to the y-axis. Change is defined by slope x R^2 (ie, increases have a positive slope and tend toward red, decreases have a negative slope and tend",
   "toward blue). Significant trends after multiple comparison correction on full results are displayed. There is significantly more absolute change in 2020",
   "than in 2019 (P<.001) and 2018 (P<.001). B) Rank of subreddits by the amount of negative semantic change throughout COVID-19 (January 1, 2020,",
   "to April 20, 2020) across significant full results. In bold are the mental health subreddits with the most negative semantic change using the following",
   "features with emotional valence: negative sentiment; the lexicons about economic stress, isolation, substance use, guns, domestic stress, and suicidality;",
   "LIWC measures of anger, anxiety, death, negations, negative emotion, and sadness; and three positive features inversely weighed, compound sentiment,",
   "positive sentiment, and positive emotion. r/ptsd and r/conspiracy decreased in negative semantic features. adhd: attention-deficit/hyperactivity disorder;",
   "bpd: borderline personality disorder; EDanonymous: Eating Disorders Anonymous; LIWC: Linguistic Inquiry and Word Count; ptsd: posttraumatic",
   "stress disorder."],
   "anchor": "start", "frame": "group", "dx": -391, "font": "Liberation Serif", "fontSize": 23, "fontWeight": "normal", "lineHeight": 28.6, "color": "black", "offset": 16, "limit": 0},
  "spacing": 23,
  "hconcat": [
   {
    "title": {"text": "A", "anchor": "start", "frame": "group", "dx": -335, "font": "Liberation Sans", "fontSize": 26, "fontWeight": "bold", "color": "black", "offset": 3},
    "bounds": "flush",
    "spacing": 36,
    "vconcat": [
     {
      "title": {"text": "2020", "font": "Lato", "fontSize": 21, "fontWeight": "bold", "color": "black", "offset": 9, "anchor": "middle"},
      "width": 560, "height": 388,
      "data": {"name": "heatmap"},
      "transform": [{"filter": "datum.year === 2020"}],
      "encoding": {
       "x": {"field": "subreddit", "type": "nominal", "scale": {"domain": ["COVID19_support","anxiety","socialanxiety","healthanxiety","depression","suicidewatch","EDAnonymous","adhd","personalfinance","relationships","conspiracy","parenting","divorce"], "paddingInner": 0, "paddingOuter": 0}, "axis": null},
       "y": {"field": "feature", "type": "nominal", "scale": {"domain": ["N posts","N words","(lonely)\u00a0\u00a0\u00a0negative sentiment","(alcoholism)\u00a0\u00a0\u00a0positive sentiment","(suicidewatch)\u00a0\u00a0\u00a0economic stress lexicon","(lonely)\u00a0\u00a0\u00a0isolation lexicon","(alcoholism)\u00a0\u00a0\u00a0LIWC motion","(adhd)\u00a0\u00a0\u00a0LIWC home","(healthanxiety)\u00a0\u00a0\u00a0LIWC body"], "paddingInner": 0, "paddingOuter": 0},
        "axis": {"title": "Features (important to classify this subreddit)", "titleFont": "Lato", "titleFontSize": 17.5, "titleFontWeight": "normal", "titleColor": "#111111", "titleX": -294, "titleY": 452, "titleAngle": 270, "titleAlign": "center", "titleBaseline": "middle", "labelFont": "Liberation Sans", "labelFontSize": 14.5, "labelColor": "#333333", "labelPadding": 10, "labelLimit": 400}}
      },
      "layer": [
       {"mark": {"type": "rect", "stroke": "white", "strokeWidth": 0.6}, "encoding": {"color": {"field": "change", "type": "quantitative", "scale": {"scheme": "redblue", "reverse": true, "domain": [-0.045, 0.045]}, "legend": null}}},
       {"transform": [{"filter": "datum.significant"}], "mark": {"type": "text", "fontSize": 12, "font": "Liberation Sans"}, "encoding": {"text": {"field": "change", "type": "nominal"}, "color": {"condition": {"test": "abs(datum.change) > 0.021", "value": "white"}, "value": "#333333"}}}
      ]
     },
     {
      "title": {"text": "2019", "font": "Lato", "fontSize": 21, "fontWeight": "bold", "color": "black", "offset": 4, "anchor": "middle"},
      "width": 560, "height": 388,
      "data": {"name": "heatmap"},
      "transform": [{"filter": "datum.year === 2019"}],
      "encoding": {
       "x": {"field": "subreddit", "type": "nominal", "scale": {"domain": ["COVID19_support","anxiety","socialanxiety","healthanxiety","depression","suicidewatch","EDAnonymous","adhd","personalfinance","relationships","conspiracy","parenting","divorce"], "paddingInner": 0, "paddingOuter": 0},
        "axis": {"orient": "bottom", "labelAngle": 270, "labelPadding": 12, "labelFont": "Liberation Sans", "labelFontSize": 14, "labelColor": "#333333", "labelLimit": 300, "title": "Subreddits", "titleFont": "Lato", "titleFontSize": 16, "titleFontWeight": "normal", "titleColor": "#111111", "titlePadding": 6}},
       "y": {"field": "feature", "type": "nominal", "scale": {"domain": ["N posts","N words","(lonely)\u00a0\u00a0\u00a0negative sentiment","(alcoholism)\u00a0\u00a0\u00a0positive sentiment","(suicidewatch)\u00a0\u00a0\u00a0economic stress lexicon","(lonely)\u00a0\u00a0\u00a0isolatioN lexicon","(alcoholism)\u00a0\u00a0\u00a0LIWC motion","(adhd)\u00a0\u00a0\u00a0LIWC home","(healthanxiety)\u00a0\u00a0\u00a0LIWC body"], "paddingInner": 0, "paddingOuter": 0},
        "axis": {"title": null, "labelFont": "Liberation Sans", "labelFontSize": 14.5, "labelColor": "#333333", "labelPadding": 10, "labelLimit": 400}}
      },
      "layer": [
       {"mark": {"type": "rect", "stroke": "white", "strokeWidth": 0.6}, "encoding": {"color": {"field": "change", "type": "quantitative", "scale": {"scheme": "redblue", "reverse": true, "domain": [-0.045, 0.045]}, "legend": null}}},
       {"transform": [{"filter": "datum.significant"}], "mark": {"type": "text", "fontSize": 12, "font": "Liberation Sans"}, "encoding": {"text": {"field": "change", "type": "nominal"}, "color": {"condition": {"test": "abs(datum.change) > 0.021", "value": "white"}, "value": "#333333"}}}
      ]
     }
    ]
   },
   {
    "title": {"text": "B", "anchor": "start", "frame": "group", "dx": -32, "font": "Liberation Sans", "fontSize": 26, "fontWeight": "bold", "color": "black", "offset": 33},
    "bounds": "flush",
    "spacing": 3,
    "vconcat": [
     {
      "width": 339, "height": 98,
      "view": {"fill": "#a6a6a6", "stroke": null},
      "data": {"values": [{"column": "subreddit", "heading": ["Subreddit"]}, {"column": "change", "heading": ["Negative", "semantic", "change"]}]},
      "layer": [
       {"transform": [{"filter": "datum.column === 'subreddit'"}],
        "mark": {"type": "text", "align": "left", "baseline": "middle", "dx": 12, "font": "Liberation Sans", "fontSize": 21, "fontWeight": "bold", "color": "#1a1a1a"},
        "encoding": {"text": {"field": "heading", "type": "nominal"}, "x": {"datum": 0, "type": "quantitative", "scale": {"domain": [0, 1]}, "axis": null}}},
       {"transform": [{"filter": "datum.column === 'change'"}],
        "mark": {"type": "text", "align": "right", "baseline": "middle", "dx": -13, "dy": -25, "lineHeight": 25, "font": "Liberation Sans", "fontSize": 21, "fontWeight": "bold", "color": "#1a1a1a"},
        "encoding": {"text": {"field": "heading", "type": "nominal"}, "x": {"datum": 1, "type": "quantitative", "axis": null}}}
      ]
     },
     {
      "width": 339, "height": 723,
      "data": {"name": "ranking"},
      "encoding": {"y": {"field": "subreddit", "type": "nominal", "sort": {"field": "rank", "op": "min"}, "axis": null}},
      "layer": [
       {"mark": {"type": "text", "align": "left", "baseline": "middle", "dx": 1, "font": "Liberation Sans", "fontSize": 20.5, "color": "#1a1a1a"},
        "encoding": {"text": {"field": "subreddit", "type": "nominal"}, "x": {"datum": 0, "type": "quantitative", "scale": {"domain": [0, 1]}, "axis": null}, "opacity": {"condition": {"test": "datum.highlighted", "value": 0}, "value": 1}}},
       {"mark": {"type": "text", "align": "left", "baseline": "middle", "dx": 1, "font": "Liberation Sans", "fontSize": 20.5, "fontWeight": "bold", "color": "#1a1a1a"},
        "encoding": {"text": {"field": "subreddit", "type": "nominal"}, "x": {"datum": 0, "type": "quantitative", "axis": null}, "opacity": {"condition": {"test": "datum.highlighted", "value": 1}, "value": 0}}},
       {"mark": {"type": "text", "align": "right", "baseline": "middle", "dx": -2, "font": "Liberation Sans", "fontSize": 20.5, "color": "#1a1a1a"},
        "encoding": {"text": {"field": "change", "type": "nominal"}, "x": {"datum": 1, "type": "quantitative", "axis": null}, "opacity": {"condition": {"test": "datum.highlighted", "value": 0}, "value": 1}}},
       {"mark": {"type": "text", "align": "right", "baseline": "middle", "dx": -2, "font": "Liberation Sans", "fontSize": 20.5, "fontWeight": "bold", "color": "#1a1a1a"},
        "encoding": {"text": {"field": "change", "type": "nominal"}, "x": {"datum": 1, "type": "quantitative", "axis": null}, "opacity": {"condition": {"test": "datum.highlighted", "value": 1}, "value": 0}}}
      ]
     }
    ]
   }
  ]
 }
]},
{
 "width": 1025, "height": 20,
 "data": {"values": [{"side": "left", "lines": ["http://www.jmir.org/2020/10/e22635/"]}, {"side": "right", "lines": ["J Med Internet Res 2020 | vol. 22 | iss. 10 | e22635 | p. 7", "(page number not for citation purposes)"]}]},
 "layer": [
  {"transform": [{"filter": "datum.side === 'left'"}],
   "mark": {"type": "text", "align": "left", "baseline": "top", "font": "Liberation Serif", "fontSize": 19, "lineHeight": 23, "color": "black"},
   "encoding": {"text": {"field": "lines", "type": "nominal"}, "x": {"datum": 0, "type": "quantitative", "scale": {"domain": [0, 1], "range": [-391, 1025]}, "axis": null}}},
  {"transform": [{"filter": "datum.side === 'right'"}],
   "mark": {"type": "text", "align": "right", "baseline": "top", "font": "Liberation Serif", "fontSize": 19, "lineHeight": 23, "color": "black"},
   "encoding": {"text": {"field": "lines", "type": "nominal"}, "x": {"datum": 1, "type": "quantitative", "axis": null}}}
 ]
}
]
}
